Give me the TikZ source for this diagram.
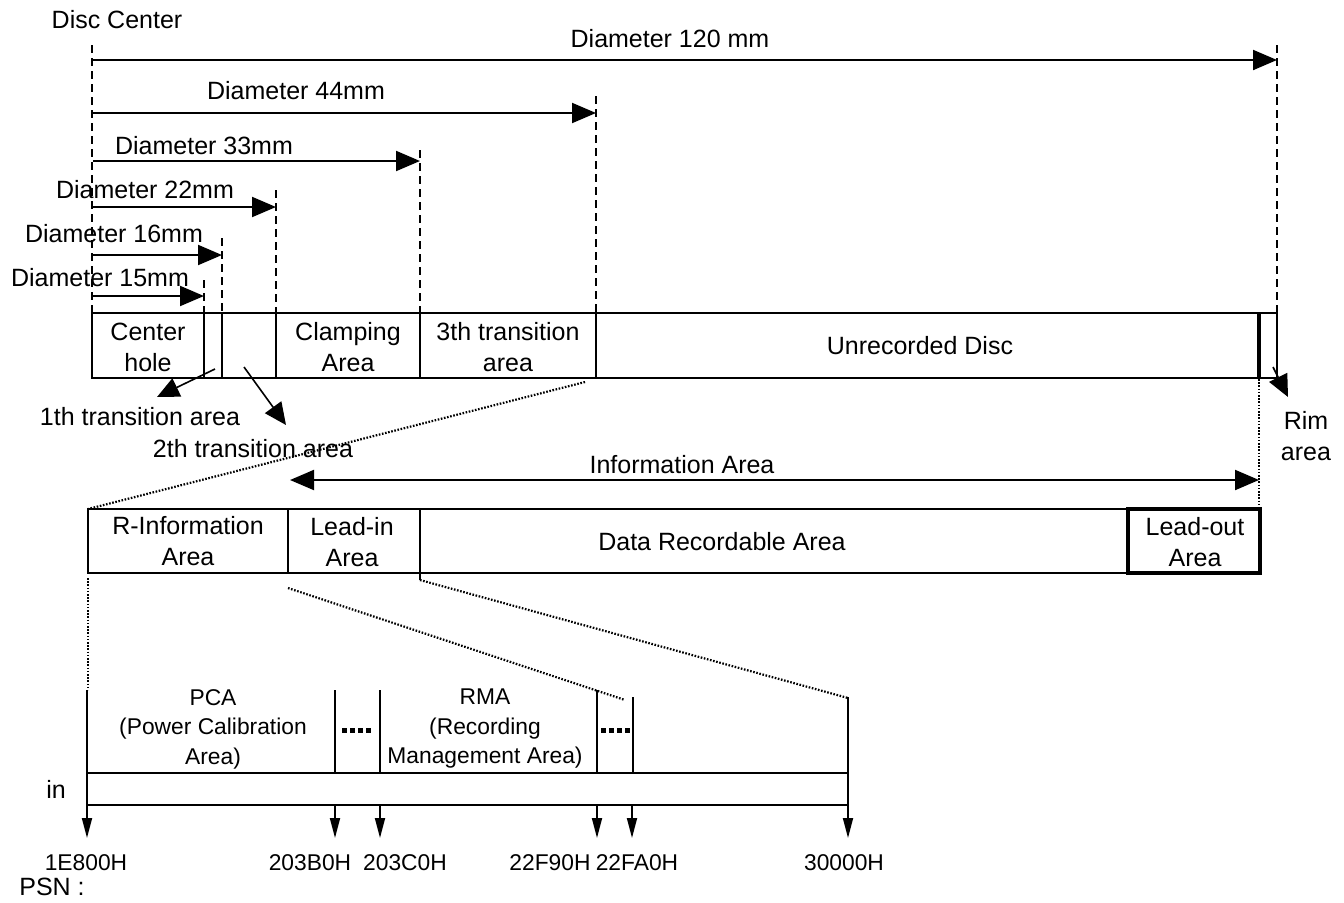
\documentclass[tikz,border=0pt]{standalone}
\usepackage{fontspec}
\setmainfont{Liberation Sans}
\usetikzlibrary{arrows.meta}
\tikzset{
  lbl/.style={font=\fontsize{12.5}{15.5}\selectfont, inner sep=0pt, align=center},
  slbl/.style={font=\fontsize{11.4}{14.75}\selectfont, inner sep=0pt, align=center},
  boxline/.style={draw, line width=1.25pt},
  guide/.style={line width=0.6pt, dash pattern=on 4pt off 2.5pt},
  dimarrow/.style={line width=1pt, -{Triangle[length=12pt,width=10pt]}},
  tarrow/.style={line width=0.8pt, -{Triangle[length=11pt,width=10pt]}},
  dotline/.style={line width=1.1pt, dash pattern=on 0.8pt off 0.8pt},
  fatdots/.style={line width=2.5pt, dash pattern=on 2.5pt off 1.5pt},
  tick/.style={line width=1pt},
  downarrow/.style={line width=0.9pt, -{Triangle[length=10pt,width=5pt]}}
}
\begin{document}
\begin{tikzpicture}[x=0.5pt,y=-0.5pt]
\useasboundingbox (0,0) rectangle (1344,902);

% ---------- guides ----------
\foreach \nm/\xx/\yy in {gc/92/45, gr/1277/45, g44/596/96, g33/420/150, g22/276/190, g16/222/238, g15/204/280} {
  \coordinate (\nm top) at (\xx,\yy);
  \coordinate (\nm bot) at (\xx,313);
  \draw[guide] (\nm top) -- (\nm bot);
}

\node[lbl] (disccenter) at (117,20) {Disc Center};

% ---------- dimension arrows ----------
\coordinate (s120) at (93,60);   \coordinate (e120) at (1277,60);
\coordinate (s44) at (93,113);   \coordinate (e44) at (596,113);
\coordinate (s33) at (93,161);   \coordinate (e33) at (420,161);
\coordinate (s22) at (93,207);   \coordinate (e22) at (276,207);
\coordinate (s16) at (93,255);   \coordinate (e16) at (222,255);
\coordinate (s15) at (93,296);   \coordinate (e15) at (204,296);
\draw[dimarrow] (s120) -- (e120);
\draw[dimarrow] (s44) -- (e44);
\draw[dimarrow] (s33) -- (e33);
\draw[dimarrow] (s22) -- (e22);
\draw[dimarrow] (s16) -- (e16);
\draw[dimarrow] (s15) -- (e15);
\node[lbl] (l120) at (670,39) {Diameter 120 mm};
\node[lbl] (l44) at (296,91) {Diameter 44mm};
\node[lbl] (l33) at (204,146) {Diameter 33mm};
\node[lbl] (l22) at (145,190) {Diameter 22mm};
\node[lbl] (l16) at (114,234) {Diameter 16mm};
\node[lbl] (l15) at (100,278) {Diameter 15mm};

% ---------- disc row ----------
\draw[boxline] (92,313) rectangle (1277,378);
\foreach \xx in {204,222,276,420,596} {\draw[boxline] (\xx,313) -- (\xx,378);}
\draw[line width=2pt] (1259,313) -- (1259,378);
\node[lbl] (chole) at (148,347) {Center\\hole};
\node[lbl] (clamp) at (348,347) {Clamping\\Area};
\node[lbl] (trans3) at (508,347) {3th transition\\area};
\node[lbl] (unrec) at (920,346) {Unrecorded Disc};

% transition arrows
\coordinate (t1s) at (215,369); \coordinate (t1e) at (157,397);
\coordinate (t2s) at (244,367); \coordinate (t2e) at (286,425);
\coordinate (rs) at (1273,367); \coordinate (re) at (1288,397);
\draw[tarrow] (t1s) -- (t1e);
\draw[tarrow] (t2s) -- (t2e);
\draw[tarrow] (rs) -- (re);
\node[lbl] (t1lab) at (140,417) {1th transition area};
\node[lbl] (t2lab) at (253,449) {2th transition area};
\node[lbl] (rimlab) at (1306,436) {Rim\\area};

% zoom lines to second row
\coordinate (z1a) at (585,382); \coordinate (z1b) at (88,509);
\coordinate (z2a) at (1259,379); \coordinate (z2b) at (1259,509);
\draw[dotline] (z1a) -- (z1b);
\draw[dotline] (z2a) -- (z2b);

% information area
\coordinate (ia1) at (290,480); \coordinate (ia2) at (1259,480);
\draw[line width=1pt, {Triangle[length=12pt,width=10pt]}-{Triangle[length=12pt,width=10pt]}] (ia1) -- (ia2);
\node[lbl] (infolab) at (682,465) {Information Area};

% ---------- second row ----------
\draw[boxline] (88,509) rectangle (1260,573);
\draw[boxline] (288,509) -- (288,573);
\draw[boxline] (420,509) -- (420,580);
\draw[line width=1.7pt] (1128,509) rectangle (1260,573);
\node[lbl] (rinfo) at (188,541) {R-Information\\Area};
\node[lbl] (leadin) at (352,542) {Lead-in\\Area};
\node[lbl] (datarec) at (722,542) {Data Recordable Area};
\node[lbl] (leadout) at (1195,542) {Lead-out\\Area};

% zoom lines to third row
\coordinate (z3a) at (88,578); \coordinate (z3b) at (88,690);
\coordinate (z4a) at (288,588); \coordinate (z4b) at (625,700);
\coordinate (z5a) at (420,580); \coordinate (z5b) at (848,698);
\draw[dotline] (z3a) -- (z3b);
\draw[dotline] (z4a) -- (z4b);
\draw[dotline] (z5a) -- (z5b);

% ---------- third row ----------
\draw[tick] (87,690) -- (87,773);
\draw[tick] (335,690) -- (335,773);
\draw[tick] (380,690) -- (380,773);
\draw[tick] (597,690) -- (597,773);
\draw[tick] (633,697) -- (633,773);
\draw[tick] (848,697) -- (848,773);
\draw[boxline] (87,773) rectangle (848,805);
\draw[fatdots] (342,730) -- (373,730);
\draw[fatdots] (601,730) -- (630,730);
\node[slbl] (pca) at (213,729) {PCA\\(Power Calibration\\Area)};
\node[slbl] (rma) at (485,729) {RMA\\(Recording\\Management Area)};
\node[lbl] (inlab) at (56,789) {in};

\foreach \nm/\xx/\txt/\lx in {a1/87/1E800H/86, a2/335/203B0H/310, a3/380/203C0H/405, a4/597/22F90H/550, a5/632/22FA0H/637, a6/848/30000H/844} {
  \coordinate (\nm s) at (\xx,805);
  \coordinate (\nm e) at (\xx,838);
  \draw[downarrow] (\nm s) -- (\nm e);
  \node[slbl] (\nm lab) at (\lx,863) {\txt};
}
\node[lbl] (psn) at (52,887) {PSN :};
\end{tikzpicture}
\end{document}
